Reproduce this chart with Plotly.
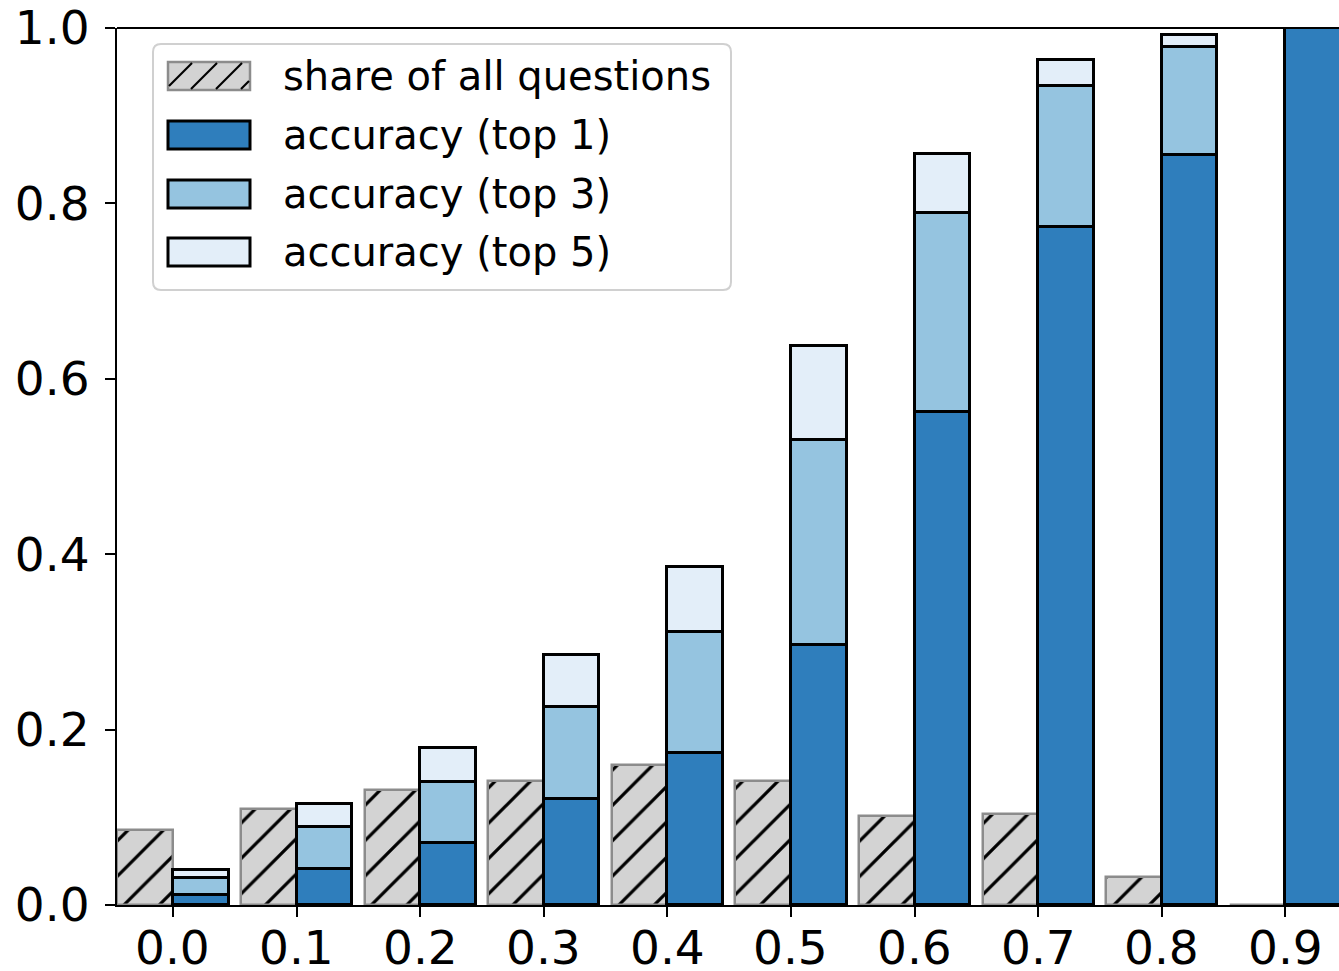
import plotly.graph_objects as go

# Confidence bins (x positions) and tick labels
categories = [0.0, 0.1, 0.2, 0.3, 0.4, 0.5, 0.6, 0.7, 0.8, 0.9]
tick_labels = ["0.0", "0.1", "0.2", "0.3", "0.4", "0.5", "0.6", "0.7", "0.8", "0.9"]

# Share of all questions falling in each bin
share = [0.085, 0.109, 0.131, 0.141, 0.160, 0.141, 0.101, 0.104, 0.032, 0.0]

# Cumulative accuracy per bin
acc_top1 = [0.011, 0.041, 0.071, 0.121, 0.173, 0.297, 0.562, 0.773, 0.855, 1.0]
acc_top3 = [0.031, 0.089, 0.140, 0.226, 0.311, 0.530, 0.789, 0.934, 0.978, 1.0]
acc_top5 = [0.040, 0.115, 0.179, 0.285, 0.385, 0.637, 0.856, 0.963, 0.992, 1.0]

legend_labels = ["share of all questions", "accuracy (top 1)",
                 "accuracy (top 3)", "accuracy (top 5)"]

C_TOP1 = "#2f7ebc"
C_TOP3 = "#95c4e0"
C_TOP5 = "#e3eef9"
C_SHARE = "#d3d3d3"
C_SHARE_EDGE = "#8c8c8c"

BAR_W = 0.045
FONT = "DejaVu Sans"

W, H = 1339, 971
ML, MR, MT, MB = 117, 0, 28, 66
PW, PH = W - ML - MR, H - MT - MB

fig = go.Figure()

# Share bars sit just left of each tick
fig.add_trace(go.Bar(
    x=categories, y=share, width=BAR_W, offset=-BAR_W,
    marker=dict(color=C_SHARE,
                line=dict(color=C_SHARE_EDGE, width=2.5),
                pattern=dict(shape="/", fgcolor="black", bgcolor=C_SHARE,
                             size=25, solidity=0.13, fillmode="replace")),
    showlegend=False, name=legend_labels[0],
))

# Stacked accuracy bars right of each tick
seg3 = [b - a for a, b in zip(acc_top1, acc_top3)]
seg5 = [b - a for a, b in zip(acc_top3, acc_top5)]
for base, vals, col, name in [
    ([0] * len(categories), acc_top1, C_TOP1, legend_labels[1]),
    (acc_top1, seg3, C_TOP3, legend_labels[2]),
    (acc_top3, seg5, C_TOP5, legend_labels[3]),
]:
    fig.add_trace(go.Bar(
        x=categories, y=vals, base=base, width=BAR_W, offset=0,
        marker=dict(color=col, line=dict(color="black", width=3)),
        showlegend=False, name=name,
    ))

x_left = -0.0453
x_right = x_left + PW / 1236.0


def px_x(p):
    return (p - ML) / PW


def px_y(p):
    return (H - MB - p) / PH


shapes = []
annotations = []

# top spine
shapes.append(dict(type="line", xref="paper", yref="paper",
                   x0=0, x1=1, y0=1, y1=1,
                   line=dict(color="black", width=2), layer="above"))

# legend frame with rounded corners
bx0, bx1, by0, by1, r = 153, 731, 44, 290, 8
path = (f"M{px_x(bx0 + r)},{px_y(by0)} L{px_x(bx1 - r)},{px_y(by0)} "
        f"Q{px_x(bx1)},{px_y(by0)} {px_x(bx1)},{px_y(by0 + r)} "
        f"L{px_x(bx1)},{px_y(by1 - r)} "
        f"Q{px_x(bx1)},{px_y(by1)} {px_x(bx1 - r)},{px_y(by1)} "
        f"L{px_x(bx0 + r)},{px_y(by1)} "
        f"Q{px_x(bx0)},{px_y(by1)} {px_x(bx0)},{px_y(by1 - r)} "
        f"L{px_x(bx0)},{px_y(by0 + r)} "
        f"Q{px_x(bx0)},{px_y(by0)} {px_x(bx0 + r)},{px_y(by0)} Z")
shapes.append(dict(type="path", xref="paper", yref="paper", path=path,
                   fillcolor="rgba(255,255,255,0.85)",
                   line=dict(color="#d0d0d0", width=2), layer="above"))

# legend entries
row_top = [62, 121, 180, 238]
patch_x0, patch_x1, patch_h = 168, 250, 28
fills = [C_SHARE, C_TOP1, C_TOP3, C_TOP5]
edges = [C_SHARE_EDGE, "black", "black", "black"]
for i, lab in enumerate(legend_labels):
    y0p = row_top[i]
    y1p = y0p + patch_h
    shapes.append(dict(type="rect", xref="paper", yref="paper",
                       x0=px_x(patch_x0), x1=px_x(patch_x1),
                       y0=px_y(y1p), y1=px_y(y0p),
                       fillcolor=fills[i],
                       line=dict(color=edges[i], width=3 if i else 2.5),
                       layer="above"))
    if i == 0:
        # diagonal hatch inside the patch, clipped to its bounds
        period = 25
        k = patch_x0 - patch_h
        while k < patch_x1 + period:
            xa, ya, xb, yb = k, y1p, k + patch_h, y0p
            if xa < patch_x0:
                ya -= (patch_x0 - xa)
                xa = patch_x0
            if xb > patch_x1:
                yb += (xb - patch_x1)
                xb = patch_x1
            if xb - xa > 1.5:
                shapes.append(dict(type="line", xref="paper", yref="paper",
                                   x0=px_x(xa + 1), y0=px_y(ya - 1),
                                   x1=px_x(xb - 1), y1=px_y(yb + 1),
                                   line=dict(color="black", width=2.2),
                                   layer="above"))
            k += period
    annotations.append(dict(xref="paper", yref="paper",
                            x=px_x(281), y=px_y(y0p + patch_h / 2),
                            xanchor="left", yanchor="middle",
                            text=lab, showarrow=False,
                            font=dict(family=FONT, size=40, color="black")))

# x tick labels placed just below the tick marks
for v, t in zip(categories, tick_labels):
    annotations.append(dict(xref="x", yref="paper", x=v, y=px_y(947),
                            xanchor="center", yanchor="middle", text=t,
                            showarrow=False, height=44, borderpad=0,
                            font=dict(family=FONT, size=47, color="black")))

fig.update_layout(
    width=W, height=H,
    margin=dict(l=ML, r=MR, t=MT, b=MB, pad=0),
    plot_bgcolor="white", paper_bgcolor="white",
    barmode="overlay", bargap=0,
    shapes=shapes, annotations=annotations,
    font=dict(family=FONT, size=47, color="black"),
    xaxis=dict(range=[x_left, x_right], tickvals=categories,
               showticklabels=False, ticks="outside", ticklen=10,
               tickwidth=2, tickcolor="black", showline=True,
               linecolor="black", linewidth=2, showgrid=False,
               zeroline=False, automargin=False),
    yaxis=dict(range=[0, 1.0], tickvals=[0, 0.2, 0.4, 0.6, 0.8, 1.0],
               ticktext=["0.0", "0.2", "0.4", "0.6", "0.8", "1.0"],
               ticks="outside", ticklen=10, tickwidth=2, tickcolor="black",
               showline=True, linecolor="black", linewidth=2,
               showgrid=False, zeroline=False, tickfont=dict(size=47),
               automargin=False, ticklabelstandoff=6),
)

fig.write_html("out.html")
